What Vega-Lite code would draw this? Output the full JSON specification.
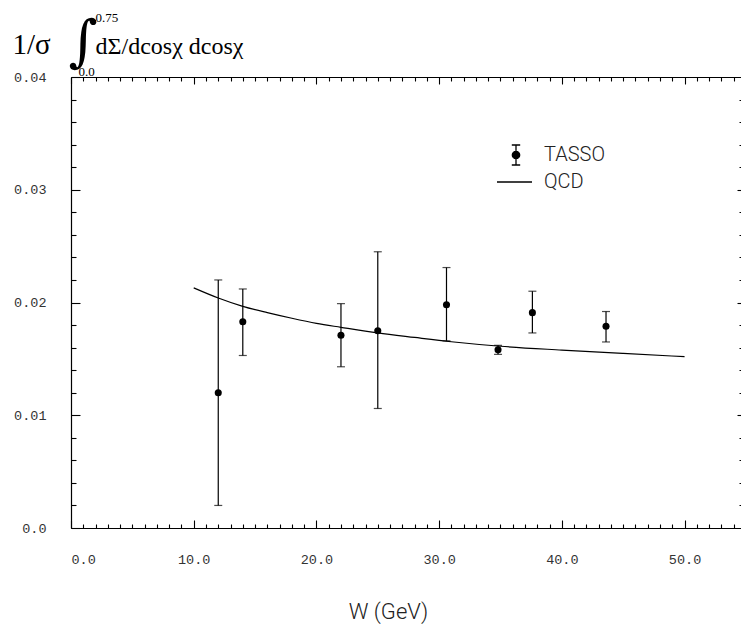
{
  "$schema": "https://vega.github.io/schema/vega-lite/v6.json",
  "autosize": {"type": "none"},
  "padding": {"left": 71, "top": 77, "right": 0, "bottom": 105},
  "width": 670,
  "height": 451,
  "background": "white",
  "datasets": {
    "tasso": [
      {"W": 12.0, "val": 0.0120, "lo": 0.0020, "hi": 0.0220, "series": "TASSO"},
      {"W": 14.0, "val": 0.0183, "lo": 0.0153, "hi": 0.0212, "series": "TASSO"},
      {"W": 22.0, "val": 0.0171, "lo": 0.0143, "hi": 0.0199, "series": "TASSO"},
      {"W": 25.0, "val": 0.0175, "lo": 0.0106, "hi": 0.0245, "series": "TASSO"},
      {"W": 30.6, "val": 0.0198, "lo": 0.0166, "hi": 0.0231, "series": "TASSO"},
      {"W": 34.8, "val": 0.0158, "lo": 0.0154, "hi": 0.0162, "series": "TASSO"},
      {"W": 37.6, "val": 0.0191, "lo": 0.0173, "hi": 0.0210, "series": "TASSO"},
      {"W": 43.6, "val": 0.0179, "lo": 0.0165, "hi": 0.0192, "series": "TASSO"}
    ],
    "qcd": [
      {"W": 10, "val": 0.0213, "series": "QCD"},
      {"W": 12, "val": 0.0204, "series": "QCD"},
      {"W": 14, "val": 0.01966, "series": "QCD"},
      {"W": 16, "val": 0.0191, "series": "QCD"},
      {"W": 18, "val": 0.0186, "series": "QCD"},
      {"W": 20, "val": 0.01815, "series": "QCD"},
      {"W": 22, "val": 0.0178, "series": "QCD"},
      {"W": 25, "val": 0.0173, "series": "QCD"},
      {"W": 28, "val": 0.0169, "series": "QCD"},
      {"W": 31, "val": 0.01652, "series": "QCD"},
      {"W": 35, "val": 0.01612, "series": "QCD"},
      {"W": 40, "val": 0.01578, "series": "QCD"},
      {"W": 45, "val": 0.01548, "series": "QCD"},
      {"W": 50, "val": 0.0152, "series": "QCD"}
    ],
    "keys": [
      {"series": "TASSO"},
      {"series": "QCD"}
    ]
  },
  "config": {
    "view": {"stroke": null},
    "axis": {
      "grid": false,
      "domainColor": "black",
      "domainWidth": 1.2,
      "tickColor": "black",
      "tickWidth": 1.1,
      "labelColor": "#333",
      "labelFont": "Liberation Mono",
      "labelFontSize": 13.5
    }
  },
  "resolve": {"axis": {"x": "independent", "y": "independent"}},
  "layer": [
    {
      "data": {"name": "tasso"},
      "mark": {"type": "rule", "color": "black", "strokeWidth": 1.2},
      "encoding": {
        "x": {
          "field": "W", "type": "quantitative",
          "scale": {"domain": [0, 54.6], "nice": false, "zero": false},
          "axis": {
            "orient": "bottom", "values": [0, 10, 20, 30, 40, 50], "format": ".1f",
            "tickSize": -8, "labelPadding": 32,
            "title": "W  (GeV)", "titleX": 317, "titleY": 83, "titleAlign": "center",
            "titleBaseline": "middle", "titleFont": "Roboto", "titleFontWeight": 300,
            "titleFontSize": 22, "titleColor": "#222"
          }
        },
        "y": {
          "field": "lo", "type": "quantitative",
          "scale": {"domain": [0, 0.04], "nice": false, "zero": false},
          "axis": {
            "orient": "left", "values": [0, 0.01, 0.02, 0.03, 0.04],
            "labelExpr": "datum.value == 0 ? '0.0' : format(datum.value, '.2f')",
            "tickSize": -9, "labelPadding": 34,
            "title": "1/σ", "titleAngle": 0, "titleX": -59, "titleY": -24,
            "titleAlign": "left", "titleBaseline": "alphabetic",
            "titleFont": "Liberation Serif", "titleFontSize": 29, "titleFontWeight": "normal",
            "titleColor": "black"
          }
        },
        "y2": {"field": "hi"}
      }
    },
    {
      "data": {"name": "tasso"},
      "mark": {"type": "tick", "orient": "horizontal", "size": 8, "thickness": 1.2, "color": "black"},
      "encoding": {
        "x": {
          "field": "W", "type": "quantitative",
          "axis": {
            "orient": "bottom",
            "values": [1,2,3,4,5,6,7,8,9,11,12,13,14,15,16,17,18,19,21,22,23,24,25,26,27,28,29,31,32,33,34,35,36,37,38,39,41,42,43,44,45,46,47,48,49,51,52,53,54],
            "labels": false, "domain": false, "tickSize": -4, "title": null
          }
        },
        "y": {
          "field": "lo", "type": "quantitative",
          "axis": {
            "orient": "left",
            "values": [0.002, 0.004, 0.006, 0.008, 0.012, 0.014, 0.016, 0.018, 0.022, 0.024, 0.026, 0.028, 0.032, 0.034, 0.036, 0.038],
            "labels": false, "domain": false, "tickSize": -5,
            "title": "∫", "titleAngle": 0, "titleX": -3, "titleY": -35,
            "titleAlign": "left", "titleBaseline": "middle",
            "titleFont": "DejaVu Serif", "titleFontSize": 56, "titleFontWeight": "normal",
            "titleColor": "black"
          }
        }
      }
    },
    {
      "data": {"name": "tasso"},
      "mark": {"type": "tick", "orient": "horizontal", "size": 8, "thickness": 1.2, "color": "black"},
      "encoding": {
        "x": {
          "field": "W", "type": "quantitative",
          "axis": {
            "orient": "top",
            "values": [1,2,3,4,5,6,7,8,9,11,12,13,14,15,16,17,18,19,21,22,23,24,25,26,27,28,29,31,32,33,34,35,36,37,38,39,41,42,43,44,45,46,47,48,49,51,52,53,54],
            "labels": false, "domain": true, "tickSize": -4,
            "title": "0.75", "titleX": 24, "titleY": -56, "titleAlign": "left",
            "titleBaseline": "alphabetic", "titleFont": "Liberation Serif",
            "titleFontSize": 13, "titleFontWeight": "normal", "titleColor": "black"
          }
        },
        "y": {
          "field": "hi", "type": "quantitative",
          "axis": {
            "orient": "right", "values": [0.01, 0.02, 0.03],
            "labels": false, "domain": false, "tickSize": -4,
            "title": "dΣ/dcosχ  dcosχ", "titleAngle": 0, "titleX": -646, "titleY": -24,
            "titleAlign": "left", "titleBaseline": "alphabetic",
            "titleFont": "Liberation Serif", "titleFontSize": 24, "titleFontWeight": "normal",
            "titleColor": "black"
          }
        }
      }
    },
    {
      "data": {"name": "tasso"},
      "mark": {"type": "point", "filled": true, "size": 50, "color": "black", "opacity": 1},
      "encoding": {
        "x": {
          "field": "W", "type": "quantitative",
          "axis": {
            "orient": "top", "values": [0, 10, 20, 30, 40, 50],
            "labels": false, "domain": false, "tickSize": -7,
            "title": "0.0", "titleX": 7, "titleY": -2, "titleAlign": "left",
            "titleBaseline": "alphabetic", "titleFont": "Liberation Serif",
            "titleFontSize": 13, "titleFontWeight": "normal", "titleColor": "black"
          }
        },
        "y": {
          "field": "val", "type": "quantitative",
          "axis": {
            "orient": "right",
            "values": [0.002, 0.004, 0.006, 0.008, 0.012, 0.014, 0.016, 0.018, 0.022, 0.024, 0.026, 0.028, 0.032, 0.034, 0.036, 0.038],
            "labels": false, "domain": false, "tickSize": -2, "title": null
          }
        }
      }
    },
    {
      "data": {"name": "qcd"},
      "mark": {"type": "line", "color": "black", "strokeWidth": 1.2, "interpolate": "monotone"},
      "encoding": {
        "x": {"field": "W", "type": "quantitative", "axis": null},
        "y": {"field": "val", "type": "quantitative", "axis": null}
      }
    },
    {
      "data": {"name": "keys"},
      "transform": [{"filter": "false"}],
      "mark": {"type": "point", "filled": true, "color": "black", "stroke": "black", "strokeWidth": 1.3, "opacity": 1},
      "encoding": {
        "shape": {
          "field": "series", "type": "nominal",
          "scale": {"domain": ["TASSO", "QCD"], "range": ["M0,-1V1M-0.42,-1H0.42M-0.42,1H0.42M0.37,0A0.37,0.37,0,1,1,-0.37,0A0.37,0.37,0,1,1,0.37,0Z", "M-1.9,0H1.6"]},
          "legend": {
            "orient": "none", "legendX": 434, "legendY": 67, "title": null,
            "symbolStrokeColor": "black", "symbolFillColor": "black", "symbolStrokeWidth": 1.3,
            "labelFont": "Roboto", "labelFontWeight": 300, "labelFontSize": 20,
            "labelColor": "#222", "labelOffset": 17, "rowPadding": 3
          }
        },
        "size": {
          "field": "series", "type": "nominal",
          "scale": {"domain": ["TASSO", "QCD"], "range": [400, 400]},
          "legend": {
            "orient": "none", "legendX": 434, "legendY": 67, "title": null
          }
        }
      }
    }
  ]
}
